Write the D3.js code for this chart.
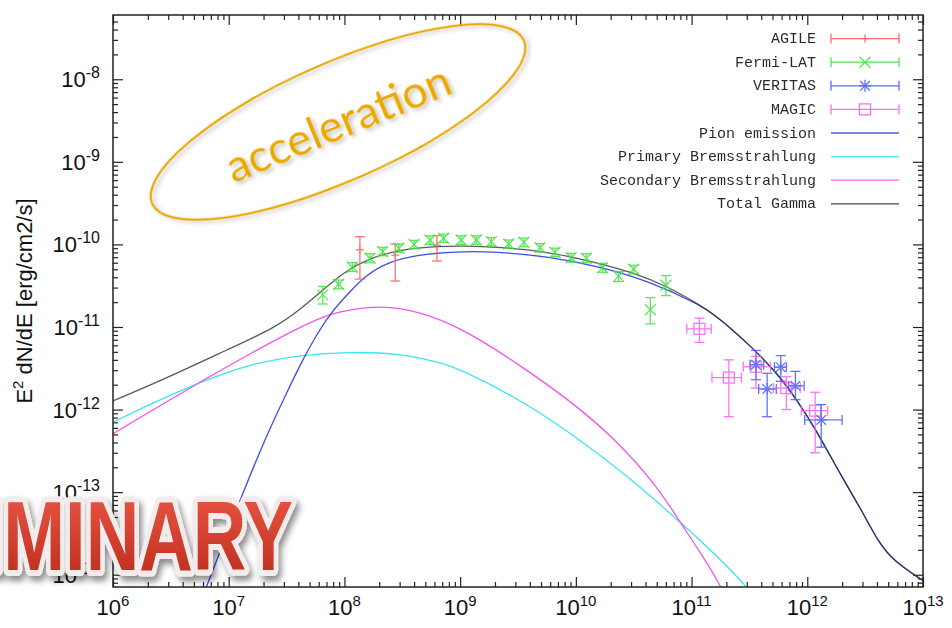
<!DOCTYPE html>
<html>
<head>
<meta charset="utf-8">
<script src="https://cdn.jsdelivr.net/npm/d3@7"></script>
<style>
  body { margin: 0; background: #fff; }
  svg { display: block; }
</style>
</head>
<body>
<div id="chart"></div>
<script>
// ---- axis ticks ----
var tickX = [1e6, 1e7, 1e8, 1e9, 1e10, 1e11, 1e12, 1e13];
var tickXExp = ['6', '7', '8', '9', '10', '11', '12', '13'];
var tickY = [1e-14, 1e-13, 1e-12, 1e-11, 1e-10, 1e-9, 1e-8];
var tickYExp = ['-14', '-13', '-12', '-11', '-10', '-9', '-8'];

// ---- model curves (E [eV], E^2 dN/dE) ----
var pionE = [6.0e6, 1.26e7, 2.14e7, 3.16e7, 4.17e7, 5.6e7, 7.5e7, 1.12e8, 1.55e8, 2.45e8, 4.2e8, 8.1e8, 1.8e9, 6.0e9, 1.6e10, 4.4e10, 1.17e11, 1.66e11, 3.2e11, 5.5e11, 8.1e11, 1.2e12, 2.0e12, 2.9e12, 4.1e12, 5.6e12, 1e13];
var pionF = [5.6e-15, 8.3e-14, 5.0e-13, 1.58e-12, 3.55e-12, 7.6e-12, 1.45e-11, 2.7e-11, 4.3e-11, 6.2e-11, 7.4e-11, 8.1e-11, 8.3e-11, 7.1e-11, 5.4e-11, 3.55e-11, 1.86e-11, 1.35e-11, 6.0e-12, 2.75e-12, 1.32e-12, 5.6e-13, 1.5e-13, 6.3e-14, 2.5e-14, 1.45e-14, 8.5e-15];

var primE = [1e6, 2.1e6, 5.6e6, 1.5e7, 4.2e7, 1.1e8, 3.0e8, 6.8e8, 1e9, 3.2e9, 8.7e9, 2.8e10, 7.9e10, 1.74e11, 2.95e11, 3.5e11];
var primF = [7.0e-13, 1.17e-12, 2.14e-12, 3.55e-12, 4.6e-12, 5.0e-12, 4.8e-12, 3.7e-12, 3.1e-12, 1.35e-12, 5.4e-13, 1.58e-13, 4.4e-14, 1.58e-14, 7.4e-15, 5.0e-15];

var secE = [1e6, 2.1e6, 5.6e6, 1.5e7, 4.2e7, 7.6e7, 1.66e8, 3.0e8, 6.8e8, 1.48e9, 3.1e9, 8.7e9, 2.2e10, 5.0e10, 7.9e10, 1.23e11, 1.78e11, 2.0e11];
var secF = [5.1e-13, 9.5e-13, 2.14e-12, 4.7e-12, 1.01e-11, 1.48e-11, 1.78e-11, 1.74e-11, 1.26e-11, 7.1e-12, 3.63e-12, 1.32e-12, 4.4e-13, 1.2e-13, 4.4e-14, 1.74e-14, 7.4e-15, 5.0e-15];

var totalE = [1e6, 2.9e6, 1e7, 2.6e7, 4.2e7, 6.2e7, 1e8, 1.66e8, 3.0e8, 6.8e8, 1e9, 2.2e9, 6e9, 1.6e10, 3.2e10, 6.2e10, 1.17e11, 1.66e11, 3.2e11, 5.5e11, 8.1e11, 1.2e12, 2.0e12, 2.9e12, 4.1e12, 5.6e12, 1e13];
var totalF = [1.27e-12, 2.4e-12, 5.4e-12, 1.0e-11, 1.66e-11, 2.63e-11, 4.7e-11, 6.8e-11, 8.7e-11, 9.5e-11, 9.6e-11, 9.3e-11, 8.1e-11, 5.9e-11, 4.5e-11, 3.1e-11, 1.86e-11, 1.35e-11, 6.0e-12, 2.75e-12, 1.32e-12, 5.6e-13, 1.5e-13, 6.3e-14, 2.5e-14, 1.45e-14, 8.5e-15];

// ---- data points ----
var agileE = [1.36e8, 2.75e8, 6.3e8];
var agileF = [8.6e-11, 7.4e-11, 9.7e-11];
var agileLo = [3.8e-11, 3.6e-11, 6.3e-11];
var agileHi = [1.24e-10, 1.01e-10, 1.28e-10];

var fermiE = [6.5e7, 8.9e7, 1.17e8, 1.66e8, 2.14e8, 2.95e8, 4.0e8, 5.5e8, 7.2e8, 1.02e9, 1.38e9, 1.86e9, 2.63e9, 3.55e9, 4.9e9, 6.6e9, 9.1e9, 1.23e10, 1.7e10, 2.34e10, 3.16e10, 4.4e10, 6.0e10];
var fermiF = [2.45e-11, 3.3e-11, 5.3e-11, 6.8e-11, 8.2e-11, 9.0e-11, 1.0e-10, 1.13e-10, 1.19e-10, 1.13e-10, 1.13e-10, 1.08e-10, 1.01e-10, 1.06e-10, 9.1e-11, 8.0e-11, 6.9e-11, 6.8e-11, 5.2e-11, 4.1e-11, 5.0e-11, 1.62e-11, 3.2e-11];
var fermiLo = [1.9e-11, 2.9e-11, 4.7e-11, 6.0e-11, 7.3e-11, 8.0e-11, 8.9e-11, 1.0e-10, 1.06e-10, 1.0e-10, 1.0e-10, 9.6e-11, 9.0e-11, 9.4e-11, 8.1e-11, 7.1e-11, 6.1e-11, 6.0e-11, 4.6e-11, 3.55e-11, 4.4e-11, 1.09e-11, 2.4e-11];
var fermiHi = [3.1e-11, 3.7e-11, 6.0e-11, 7.7e-11, 9.2e-11, 1.01e-10, 1.12e-10, 1.27e-10, 1.33e-10, 1.27e-10, 1.27e-10, 1.21e-10, 1.13e-10, 1.19e-10, 1.02e-10, 9.0e-11, 7.8e-11, 7.7e-11, 5.9e-11, 4.7e-11, 5.6e-11, 2.27e-11, 4.2e-11];

var veritasE = [3.6e11, 4.5e11, 5.9e11, 7.9e11, 1.32e12];
var veritasELo = [3.2e11, 3.8e11, 5.2e11, 6.9e11, 9.5e11];
var veritasEHi = [4.2e11, 5.4e11, 6.6e11, 9.4e11, 2.0e12];
var veritasF = [3.5e-12, 1.77e-12, 3.26e-12, 1.94e-12, 7.5e-13];
var veritasLo = [2.3e-12, 8.2e-13, 2.2e-12, 1.32e-12, 3.5e-13];
var veritasHi = [5.2e-12, 2.75e-12, 4.5e-12, 2.9e-12, 1.15e-12];

var magicE = [1.17e11, 2.1e11, 3.6e11, 6.6e11, 1.17e12];
var magicELo = [9.1e10, 1.5e11, 2.8e11, 5.1e11, 8.9e11];
var magicEHi = [1.48e11, 2.7e11, 4.8e11, 8.7e11, 1.5e12];
var magicF = [9.5e-12, 2.44e-12, 3.3e-12, 1.82e-12, 9.7e-13];
var magicLo = [6.5e-12, 8.2e-13, 1.82e-12, 1.0e-12, 3.0e-13];
var magicHi = [1.28e-11, 4.0e-12, 4.4e-12, 2.5e-12, 1.62e-12];

var legendNames = ['AGILE', 'Fermi-LAT', 'VERITAS', 'MAGIC', 'Pion emission', 'Primary Bremsstrahlung', 'Secondary Bremsstrahlung', 'Total Gamma'];

var cAgile = '#ff5a5a', cFermi = '#3ee23e', cVeritas = '#4a5cff', cMagic = '#ff5cf0';
var cPion = '#3a4ee6', cPrim = '#3ae6ee', cSec = '#f552ec', cTotal = '#303030';

var svgwidth = 952, svgheight = 628;
var _margin = {top: 15, left: 113, right: 29, bottom: 41};

var _svg = d3.select('#chart').append('svg')
    .attr('width', svgwidth)
    .attr('height', svgheight)
    .style('font-family', '"Liberation Sans", Arial, sans-serif');

var defs = _svg.append('defs');
defs.append('clipPath').attr('id', 'plotclip').append('rect')
    .attr('x', _margin.left).attr('y', _margin.top)
    .attr('width', svgwidth - _margin.left - _margin.right)
    .attr('height', svgheight - _margin.top - _margin.bottom);
var sh = defs.append('filter').attr('id', 'shadow').attr('x', '-20%').attr('y', '-20%').attr('width', '140%').attr('height', '160%');
sh.append('feDropShadow').attr('dx', 3).attr('dy', 5).attr('stdDeviation', 3)
    .attr('flood-color', '#000').attr('flood-opacity', 0.45);
var sh2 = defs.append('filter').attr('id', 'softshadow').attr('x', '-20%').attr('y', '-30%').attr('width', '140%').attr('height', '160%');
sh2.append('feDropShadow').attr('dx', 2).attr('dy', 3).attr('stdDeviation', 2)
    .attr('flood-color', '#000').attr('flood-opacity', 0.25);
var grad = defs.append('linearGradient').attr('id', 'redgrad').attr('x1', 0).attr('y1', 0).attr('x2', 0).attr('y2', 1);
grad.append('stop').attr('offset', '0%').attr('stop-color', '#ee5a48');
grad.append('stop').attr('offset', '100%').attr('stop-color', '#b8281a');

var x = d3.scaleLog().domain([1e6, 1e13]).range([_margin.left, svgwidth - _margin.right]);
var y = d3.scaleLog().domain([7.1e-15, 6e-8]).range([svgheight - _margin.bottom, _margin.top]);

// minor ticks
var minorX = [], minorY = [];
tickX.forEach(function (v) {
    for (var k = 2; k <= 9; k++) if (v * k < 1e13) minorX.push(v * k);
});
[1e-15].concat(tickY).forEach(function (v) {
    for (var k = 2; k <= 9; k++) {
        var m = v * k;
        if (m > y.domain()[0] && m < y.domain()[1]) minorY.push(m);
    }
});

function drawAxis(axisFn, scale, vals, size, tx, ty) {
    var g = _svg.append('g').attr('transform', 'translate(' + tx + ',' + ty + ')')
        .call(axisFn(scale).tickValues(vals).tickSizeInner(-size).tickSizeOuter(0).tickFormat(''));
    g.select('.domain').remove();
    g.selectAll('line').attr('stroke', '#222').attr('stroke-width', 1.2);
}
var bx = svgheight - _margin.bottom, rx = svgwidth - _margin.right;
drawAxis(d3.axisBottom, x, tickX, 10, 0, bx);
drawAxis(d3.axisBottom, x, minorX, 5, 0, bx);
drawAxis(d3.axisTop, x, tickX, 10, 0, _margin.top);
drawAxis(d3.axisTop, x, minorX, 5, 0, _margin.top);
drawAxis(d3.axisLeft, y, tickY, 10, _margin.left, 0);
drawAxis(d3.axisLeft, y, minorY, 5, _margin.left, 0);
drawAxis(d3.axisRight, y, tickY, 10, rx, 0);
drawAxis(d3.axisRight, y, minorY, 5, rx, 0);

// tick labels
tickX.forEach(function (v, i) {
    var t = _svg.append('text').attr('x', x(v)).attr('y', 615)
        .attr('text-anchor', 'middle').style('font-size', '22px').attr('fill', '#111');
    t.append('tspan').text('10');
    t.append('tspan').attr('dy', -9).style('font-size', '15px').text(tickXExp[i]);
});
tickY.forEach(function (v, i) {
    var t = _svg.append('text').attr('x', 100).attr('y', y(v) + 8)
        .attr('text-anchor', 'end').style('font-size', '22px').attr('fill', '#111');
    t.append('tspan').text('10');
    t.append('tspan').attr('dy', -9).style('font-size', '16px').text(tickYExp[i]);
});

// y title
var yt = _svg.append('text').attr('transform', 'translate(32,301) rotate(-90)')
    .attr('text-anchor', 'middle').style('font-size', '22px').attr('fill', '#111');
yt.append('tspan').text('E');
yt.append('tspan').attr('dy', -9).style('font-size', '15px').text('2');
yt.append('tspan').attr('dy', 9).text(' dN/dE [erg/cm2/s]');

// curves
var plot = _svg.append('g').attr('clip-path', 'url(#plotclip)');
function drawCurve(E, F, color, op) {
    var line = d3.line()
        .x(function (d) { return x(E[d]); })
        .y(function (d) { return y(F[d]); })
        .curve(d3.curveBasis);
    plot.append('path').attr('d', line(d3.range(E.length)))
        .attr('fill', 'none').attr('stroke', color).attr('stroke-width', 1.3)
        .attr('stroke-opacity', op);
}
drawCurve(primE, primF, cPrim, 1);
drawCurve(secE, secF, cSec, 1);
drawCurve(pionE, pionF, cPion, 1);
drawCurve(totalE, totalF, cTotal, 0.8);

// error bar helpers
function seg(g, x1, y1, x2, y2, color) {
    g.append('line').attr('x1', x1).attr('y1', y1).attr('x2', x2).attr('y2', y2)
        .attr('stroke', color).attr('stroke-width', 1.3);
}
function yerr(g, px, y1, y2, color) {
    seg(g, px, y1, px, y2, color);
    seg(g, px - 5, y1, px + 5, y1, color);
    seg(g, px - 5, y2, px + 5, y2, color);
}
function xerr(g, py, x1, x2, color) {
    seg(g, x1, py, x2, py, color);
    seg(g, x1, py - 5, x1, py + 5, color);
    seg(g, x2, py - 5, x2, py + 5, color);
}
function markPlus(g, px, py, s, color) { seg(g, px - s, py, px + s, py, color); seg(g, px, py - s, px, py + s, color); }
function markX(g, px, py, s, color) { seg(g, px - s, py - s, px + s, py + s, color); seg(g, px - s, py + s, px + s, py - s, color); }
function markStar(g, px, py, s, color) { markPlus(g, px, py, s, color); markX(g, px, py, s * 0.8, color); }
function markSquare(g, px, py, s, color) {
    g.append('rect').attr('x', px - s).attr('y', py - s).attr('width', 2 * s).attr('height', 2 * s)
        .attr('fill', 'none').attr('stroke', color).attr('stroke-width', 1.3);
}

var pts = plot.append('g').attr('opacity', 0.85);
agileE.forEach(function (e, i) {
    yerr(pts, x(e), y(agileHi[i]), y(agileLo[i]), cAgile);
    markPlus(pts, x(e), y(agileF[i]), 4, cAgile);
});
fermiE.forEach(function (e, i) {
    yerr(pts, x(e), y(fermiHi[i]), y(fermiLo[i]), cFermi);
    markX(pts, x(e), y(fermiF[i]), 5.5, cFermi);
});
magicE.forEach(function (e, i) {
    yerr(pts, x(e), y(magicHi[i]), y(magicLo[i]), cMagic);
    xerr(pts, y(magicF[i]), x(magicELo[i]), x(magicEHi[i]), cMagic);
    markSquare(pts, x(e), y(magicF[i]), 5.5, cMagic);
});
veritasE.forEach(function (e, i) {
    yerr(pts, x(e), y(veritasHi[i]), y(veritasLo[i]), cVeritas);
    xerr(pts, y(veritasF[i]), x(veritasELo[i]), x(veritasEHi[i]), cVeritas);
    markStar(pts, x(e), y(veritasF[i]), 6, cVeritas);
});

// frame
_svg.append('rect').attr('x', _margin.left).attr('y', _margin.top)
    .attr('width', svgwidth - _margin.left - _margin.right)
    .attr('height', svgheight - _margin.top - _margin.bottom)
    .attr('fill', 'none').attr('stroke', '#222').attr('stroke-width', 1.5);

// legend
var legColors = [cAgile, cFermi, cVeritas, cMagic, cPion, cPrim, cSec, cTotal];
var leg = _svg.append('g').attr('opacity', 0.9);
legendNames.forEach(function (name, i) {
    var ly = 38.6 + i * 23.6;
    leg.append('text').attr('x', 816).attr('y', ly + 4.5).attr('text-anchor', 'end')
        .style('font-family', '"Liberation Mono", "Courier New", monospace')
        .style('font-size', '15px').attr('fill', '#111').text(name);
    if (i < 4) {
        xerr(leg, ly, 831, 899, legColors[i]);
        if (i === 0) markPlus(leg, 865, ly, 4, legColors[i]);
        if (i === 1) markX(leg, 865, ly, 5.5, legColors[i]);
        if (i === 2) markStar(leg, 865, ly, 6, legColors[i]);
        if (i === 3) markSquare(leg, 865, ly, 5.5, legColors[i]);
    } else {
        seg(leg, 831, ly, 899, ly, legColors[i]);
    }
});

// "acceleration" annotation
_svg.append('ellipse').attr('cx', 338).attr('cy', 122).attr('rx', 203).attr('ry', 59)
    .attr('transform', 'rotate(-23.7,338,122)')
    .attr('fill', 'none').attr('stroke', '#e8a700').attr('stroke-width', 2.2)
    .attr('filter', 'url(#softshadow)');
_svg.append('text').attr('transform', 'translate(344,138) rotate(-22.4)')
    .attr('text-anchor', 'middle')
    .style('font-family', 'Lato, "Open Sans", sans-serif').style('font-size', '45px')
    .attr('fill', '#eba800').attr('filter', 'url(#softshadow)').text('acceleration');

// PRELIMINARY banner
_svg.append('text').attr('x', -215).attr('y', 570)
    .attr('textLength', 508).attr('lengthAdjust', 'spacingAndGlyphs')
    .style('font-size', '98px').style('font-weight', 'bold')
    .style('font-family', '"Liberation Sans", Arial, sans-serif')
    .attr('fill', 'url(#redgrad)').attr('stroke', '#f3ecec').attr('stroke-width', 12)
    .attr('stroke-linejoin', 'round').attr('paint-order', 'stroke')
    .attr('filter', 'url(#shadow)').text('PRELIMINARY');
</script>
</body>
</html>
